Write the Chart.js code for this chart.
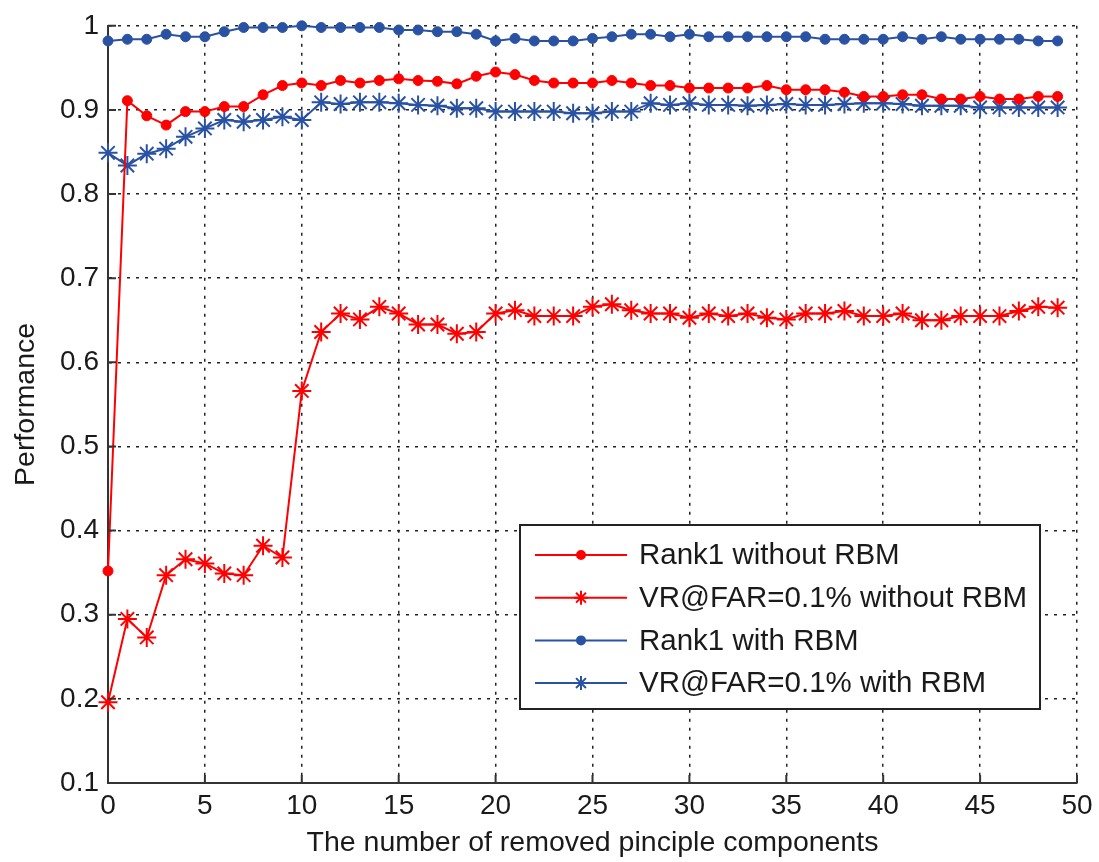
<!DOCTYPE html>
<html>
<head>
<meta charset="utf-8">
<script src="https://cdn.jsdelivr.net/npm/chart.js@4"></script>
<style>
  html, body { margin: 0; padding: 0; background: #fff; }
  #wrap { width: 1099px; height: 862px; position: relative; }
</style>
</head>
<body>
<div id="wrap"><canvas id="perf"></canvas></div>
<script>
// removed principal components (x)
const components = [0, 1, 2, 3, 4, 5, 6, 7, 8, 9,
    10, 11, 12, 13, 14, 15, 16, 17, 18, 19,
    20, 21, 22, 23, 24, 25, 26, 27, 28, 29,
    30, 31, 32, 33, 34, 35, 36, 37, 38, 39,
    40, 41, 42, 43, 44, 45, 46, 47, 48, 49];

const rank1Without = [0.352, 0.911, 0.893, 0.882, 0.898, 0.898, 0.904, 0.904, 0.918, 0.929,
    0.932, 0.929, 0.935, 0.932, 0.935, 0.937, 0.935, 0.934, 0.931, 0.940,
    0.945, 0.942, 0.935, 0.932, 0.932, 0.932, 0.935, 0.932, 0.929, 0.929,
    0.926, 0.926, 0.926, 0.926, 0.929, 0.924, 0.924, 0.924, 0.921, 0.916,
    0.916, 0.918, 0.918, 0.913, 0.913, 0.916, 0.913, 0.913, 0.916, 0.916];

const vrWithout = [0.196, 0.295, 0.273, 0.347, 0.366, 0.361, 0.349, 0.347, 0.382, 0.368,
    0.566, 0.636, 0.658, 0.651, 0.666, 0.658, 0.645, 0.645, 0.634, 0.636,
    0.658, 0.662, 0.655, 0.655, 0.655, 0.666, 0.669, 0.662, 0.658, 0.658,
    0.653, 0.658, 0.655, 0.658, 0.653, 0.651, 0.658, 0.658, 0.661, 0.655,
    0.655, 0.658, 0.650, 0.650, 0.655, 0.655, 0.655, 0.661, 0.666, 0.665];

const rank1With = [0.982, 0.984, 0.984, 0.990, 0.987, 0.987, 0.993, 0.998, 0.998, 0.998,
    1.000, 0.998, 0.998, 0.998, 0.998, 0.995, 0.995, 0.993, 0.993, 0.990,
    0.982, 0.985, 0.982, 0.982, 0.982, 0.985, 0.987, 0.990, 0.990, 0.987,
    0.990, 0.987, 0.987, 0.987, 0.987, 0.987, 0.987, 0.984, 0.984, 0.984,
    0.984, 0.987, 0.984, 0.987, 0.984, 0.984, 0.984, 0.984, 0.982, 0.982];

const vrWith = [0.849, 0.834, 0.848, 0.854, 0.868, 0.878, 0.888, 0.886, 0.888, 0.892,
    0.888, 0.909, 0.907, 0.909, 0.909, 0.908, 0.906, 0.905, 0.902, 0.902,
    0.898, 0.898, 0.898, 0.898, 0.896, 0.896, 0.898, 0.898, 0.908, 0.906,
    0.908, 0.906, 0.906, 0.905, 0.906, 0.907, 0.906, 0.906, 0.907, 0.908,
    0.908, 0.907, 0.905, 0.905, 0.905, 0.903, 0.903, 0.903, 0.903, 0.903];

const seriesLabels = ['Rank1 without RBM', 'VR@FAR=0.1% without RBM', 'Rank1 with RBM', 'VR@FAR=0.1% with RBM'];
const xTicks = [0, 5, 10, 15, 20, 25, 30, 35, 40, 45, 50];
const yTicks = [0.1, 0.2, 0.3, 0.4, 0.5, 0.6, 0.7, 0.8, 0.9, 1];

const RED = '#ff0000';
const BLUE = '#2a52a3';
const FONT = '"Liberation Sans", Arial, sans-serif';

const toPoints = ys => components.map((x, i) => ({ x, y: ys[i] }));

function makeSet(label, ys, color, style) {
    const star = style === 'star';
    return {
        label,
        data: toPoints(ys),
        borderColor: color,
        backgroundColor: color,
        borderWidth: 2,
        pointStyle: style,
        pointRadius: star ? 9.5 : 5,
        pointBorderWidth: star ? 2 : 1,
        pointHoverRadius: star ? 9.5 : 5,
        tension: 0,
        clip: false,
        legendRadius: star ? 7 : 4
    };
}

// short inward ticks on the left and bottom axes, like matlab
const inwardTicks = {
    id: 'inwardTicks',
    afterDraw(chart) {
        const { ctx, chartArea, scales } = chart;
        const len = 8;
        ctx.save();
        ctx.strokeStyle = '#333';
        ctx.lineWidth = 2;
        ctx.beginPath();
        xTicks.forEach(v => {
            const px = scales.x.getPixelForValue(v);
            ctx.moveTo(px, chartArea.bottom);
            ctx.lineTo(px, chartArea.bottom - len);
        });
        yTicks.forEach(v => {
            const py = scales.y.getPixelForValue(v);
            ctx.moveTo(chartArea.left, py);
            ctx.lineTo(chartArea.left + len, py);
        });
        ctx.stroke();
        ctx.restore();
    }
};

// boxed legend in the lower right of the plot
const boxLegend = {
    id: 'boxLegend',
    afterDraw(chart) {
        const { ctx, chartArea } = chart;
        const w = 520, h = 184;
        const right = chartArea.right - 37;
        const bottom = chartArea.bottom - 74;
        const left = right - w, top = bottom - h;

        ctx.save();
        ctx.fillStyle = '#fff';
        ctx.fillRect(left, top, w, h);
        ctx.strokeStyle = '#222';
        ctx.lineWidth = 2;
        ctx.strokeRect(left, top, w, h);

        ctx.font = '29.5px ' + FONT;
        ctx.textBaseline = 'middle';
        ctx.textAlign = 'left';
        chart.data.datasets.forEach((ds, i) => {
            const y = top + 30 + i * 42.7;
            ctx.strokeStyle = ds.borderColor;
            ctx.fillStyle = ds.borderColor;
            ctx.lineWidth = 2;
            ctx.beginPath();
            ctx.moveTo(left + 15, y);
            ctx.lineTo(left + 107, y);
            ctx.stroke();
            Chart.helpers.drawPoint(ctx, {
                pointStyle: ds.pointStyle,
                radius: ds.legendRadius,
                rotation: 0,
                borderWidth: 2
            }, left + 61, y);
            ctx.fillStyle = '#1a1a1a';
            ctx.fillText(ds.label, left + 119, y + 1);
        });
        ctx.restore();
    }
};

const gridDash = [3, 6];

new Chart(document.getElementById('perf'), {
    type: 'line',
    data: {
        datasets: [
            makeSet(seriesLabels[0], rank1Without, RED, 'circle'),
            makeSet(seriesLabels[1], vrWithout, RED, 'star'),
            makeSet(seriesLabels[2], rank1With, BLUE, 'circle'),
            makeSet(seriesLabels[3], vrWith, BLUE, 'star')
        ]
    },
    options: {
        responsive: true,
        maintainAspectRatio: false,
        animation: false,
        layout: { padding: { top: 18, right: 22, left: 0, bottom: 0 } },
        plugins: {
            legend: { display: false },
            tooltip: { enabled: false }
        },
        scales: {
            x: {
                type: 'linear',
                min: 0,
                max: 50,
                afterBuildTicks: axis => { axis.ticks = xTicks.map(v => ({ value: v })); },
                afterFit: axis => { axis.height = 79; },
                grid: { color: '#222', lineWidth: 1.5, drawTicks: false },
                border: { display: true, color: '#333', width: 2, dash: gridDash },
                ticks: {
                    color: '#1a1a1a',
                    padding: 6,
                    maxRotation: 0,
                    font: { family: FONT, size: 28 }
                },
                title: {
                    display: true,
                    text: 'The number of removed pinciple components',
                    color: '#1a1a1a',
                    padding: { top: 0, bottom: 2 },
                    font: { family: FONT, size: 28.5 }
                }
            },
            y: {
                min: 0.1,
                max: 1,
                afterBuildTicks: axis => { axis.ticks = yTicks.map(v => ({ value: v })); },
                afterFit: axis => { axis.width = 108; },
                grid: { color: '#222', lineWidth: 1.5, drawTicks: false },
                border: { display: true, color: '#333', width: 2, dash: gridDash },
                ticks: {
                    color: '#1a1a1a',
                    padding: 9,
                    font: { family: FONT, size: 28 },
                    callback: v => String(Number(v.toFixed(1)))
                },
                title: {
                    display: true,
                    text: 'Performance',
                    color: '#1a1a1a',
                    padding: { top: 9, bottom: 0 },
                    font: { family: FONT, size: 28.5 }
                }
            }
        }
    },
    plugins: [inwardTicks, boxLegend]
});
</script>
</body>
</html>
